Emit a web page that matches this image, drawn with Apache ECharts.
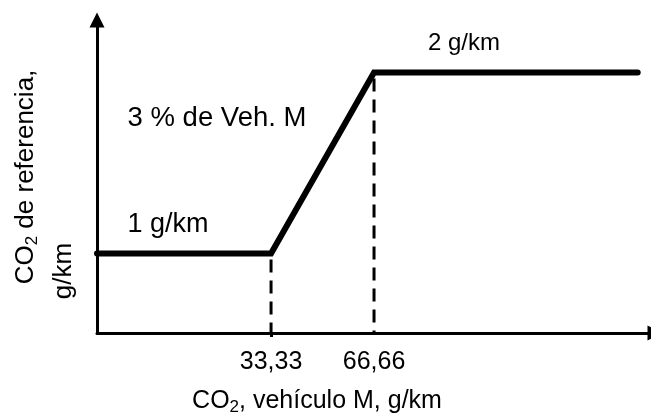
<!DOCTYPE html>
<html>
<head>
<meta charset="utf-8">
<script src="https://cdn.jsdelivr.net/npm/echarts@6/dist/echarts.min.js"></script>
<style>
  html, body { margin: 0; padding: 0; background: #fff; }
  #chart { width: 651px; height: 416px; }
</style>
</head>
<body>
<div id="chart"></div>
<script>
// Reference CO2 (g/km) as a function of vehicle M's CO2 (g/km)
const stepX = [-23, 33.33, 66.66, 152];
const stepY = [1, 1, 2, 2];

// breakpoints on the x axis, the level reached there, and their printed labels
const breakX = [33.33, 66.66];
const breakY = [1, 2];
const tickLabels = ['33,33', '66,66'];

const levelLabels = ['1 g/km', '2 g/km'];
const slopeLabel = '3 % de Veh. M';

const xRange = [-23, 156.3];
const yRange = [0.56, 2.29];

const FONT = "'Liberation Sans', Arial, Helvetica, sans-serif";
const AXIS_FS = 25;

const chart = echarts.init(document.getElementById('chart'), null, { renderer: 'canvas' });

const guideSeries = breakX.map((bx, i) => ({
  type: 'line',
  data: [[bx, breakY[i]], [bx, yRange[0]]],
  symbol: 'none',
  silent: true,
  z: 1,
  lineStyle: { color: '#000', width: 3, type: [13, 8], dashOffset: 15 }
}));

function label(text, x, y, size, extra) {
  return Object.assign({
    type: 'text',
    x: x, y: y,
    style: {
      text: text,
      fill: '#000',
      font: size + 'px ' + FONT,
      align: 'center',
      verticalAlign: 'middle',
      rich: {
        n: { fontSize: size, fontFamily: FONT, fill: '#000', lineHeight: size + 4 },
        sub: { fontSize: Math.round(size * 0.66), fontFamily: FONT, fill: '#000', verticalAlign: 'bottom', lineHeight: Math.round(size * 0.8) }
      }
    }
  }, extra || {});
}

chart.setOption({
  animation: false,
  backgroundColor: '#fff',
  grid: { left: 97, right: 0, top: 20, bottom: 83 },
  xAxis: {
    type: 'value',
    min: xRange[0],
    max: xRange[1],
    splitLine: { show: false },
    axisLine: {
      show: true,
      onZero: false,
      symbol: ['none', 'triangle'],
      symbolSize: [15, 15],
      symbolOffset: [0, 4],
      lineStyle: { color: '#000', width: 3 }
    },
    axisTick: {
      show: true,
      customValues: [breakX[0]],
      length: 4,
      lineStyle: { color: '#000', width: 3 }
    },
    axisLabel: {
      show: true,
      customValues: breakX,
      margin: 17,
      color: '#000',
      fontSize: AXIS_FS,
      fontFamily: FONT,
      formatter: function (v) {
        let best = 0;
        breakX.forEach((b, i) => { if (Math.abs(b - v) < Math.abs(breakX[best] - v)) best = i; });
        return tickLabels[best];
      }
    }
  },
  yAxis: {
    type: 'value',
    min: yRange[0],
    max: yRange[1],
    splitLine: { show: false },
    axisTick: { show: false },
    axisLabel: { show: false },
    axisLine: {
      show: true,
      onZero: false,
      symbol: ['none', 'triangle'],
      symbolSize: [15, 15],
      lineStyle: { color: '#000', width: 3 }
    }
  },
  series: guideSeries.concat([{
    type: 'line',
    data: stepX.map((x, i) => [x, stepY[i]]),
    symbol: 'none',
    z: 3,
    lineStyle: { color: '#000', width: 6, cap: 'round', join: 'miter' }
  }]),
  graphic: [
    label(levelLabels[0], 168, 225, 27),
    label(levelLabels[1], 464, 43, 24),
    label(slopeLabel, 217, 118, 27.5),
    label('{n|CO}{sub|2}{n|, vehículo M, g/km}', 317, 401, AXIS_FS),
    label('{n|CO}{sub|2}{n| de referencia,}', 26, 177, 26, { rotation: Math.PI / 2 }),
    label('g/km', 64, 271, 26, { rotation: Math.PI / 2 })
  ]
});
</script>
</body>
</html>
